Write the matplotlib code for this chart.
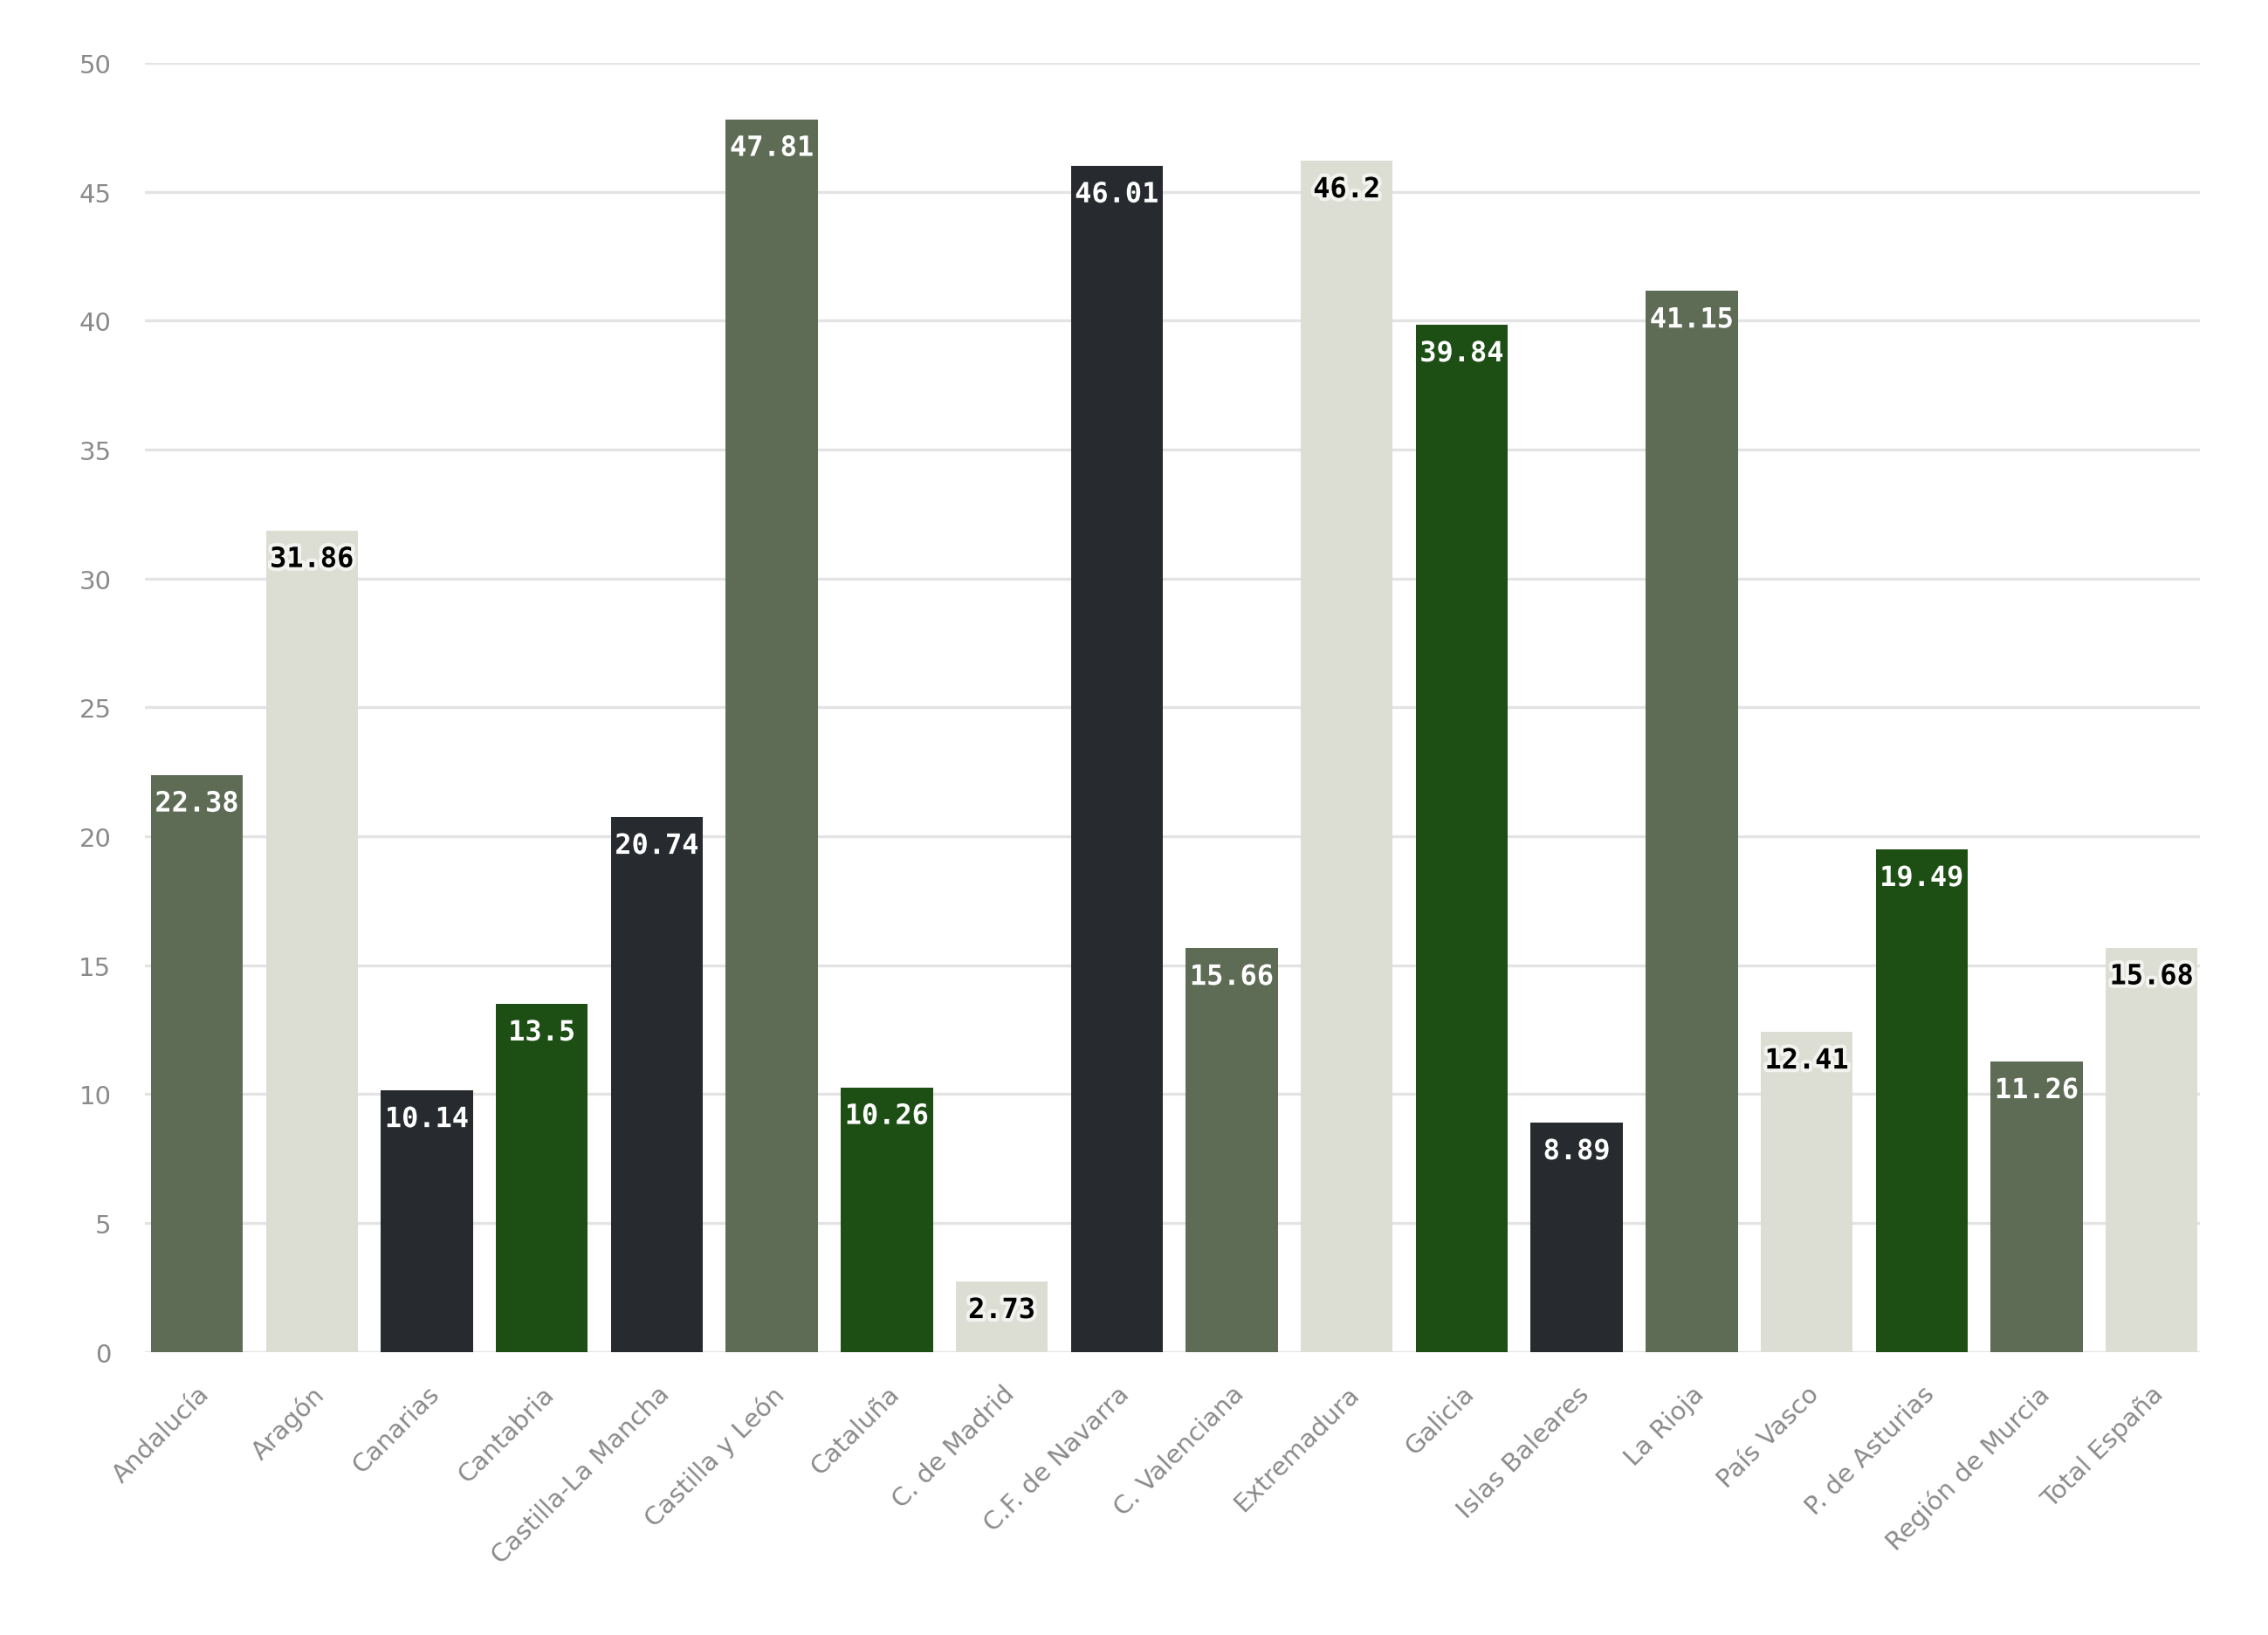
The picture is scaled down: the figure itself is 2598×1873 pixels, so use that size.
import matplotlib.pyplot as plt
import matplotlib.patheffects as pe
import numpy as np

regions = ['Andalucía', 'Aragón', 'Canarias', 'Cantabria', 'Castilla-La Mancha',
           'Castilla y León', 'Cataluña', 'C. de Madrid', 'C.F. de Navarra',
           'C. Valenciana', 'Extremadura', 'Galicia', 'Islas Baleares', 'La Rioja',
           'País Vasco', 'P. de Asturias', 'Región de Murcia', 'Total España']
values = [22.38, 31.86, 10.14, 13.5, 20.74, 47.81, 10.26, 2.73, 46.01,
          15.66, 46.2, 39.84, 8.89, 41.15, 12.41, 19.49, 11.26, 15.68]
palette = ['#5e6c56', '#dcded4', '#272b2f', '#1d4f14']
color_idx = [0, 1, 2, 3, 2, 0, 3, 1, 2, 0, 1, 3, 2, 0, 1, 3, 0, 1]

colors = [palette[i] for i in color_idx]

fig = plt.figure(figsize=(12.99, 9.37), dpi=200)
ax = fig.add_axes([0.064, 0.173, 0.906, 0.788])

x = np.arange(len(regions))
ax.bar(x, values, width=0.8, color=colors, zorder=2)

for xi, v, c, ci in zip(x, values, colors, color_idx):
    light = ci == 1
    txt_col = 'black' if light else 'white'
    stroke_col = '#f2f2ee' if light else c
    ax.annotate(f'{v:g}', (xi, v), xytext=(0, -12), textcoords='offset points',
                ha='center', va='center', fontsize=11.5, fontweight='bold',
                family='DejaVu Sans Mono', color=txt_col, zorder=3,
                path_effects=[pe.withStroke(linewidth=3, foreground=stroke_col)])

ax.set_ylim(0, 50)
ax.set_xlim(-0.45, 17.42)
ax.set_yticks(range(0, 51, 5))
ax.yaxis.grid(True, color='#e3e3e3', linewidth=1.2, zorder=0)
ax.set_axisbelow(True)
for s in ax.spines.values():
    s.set_visible(False)
ax.tick_params(axis='both', length=0, labelsize=10.5, labelcolor='#8a8a8a')
ax.tick_params(axis='y', pad=14)
ax.set_xticks(x)
ax.set_xticklabels(regions, rotation=45, ha='right', rotation_mode='anchor')
ax.tick_params(axis='x', pad=12)

fig.savefig('out.png', dpi=200, facecolor='white')
